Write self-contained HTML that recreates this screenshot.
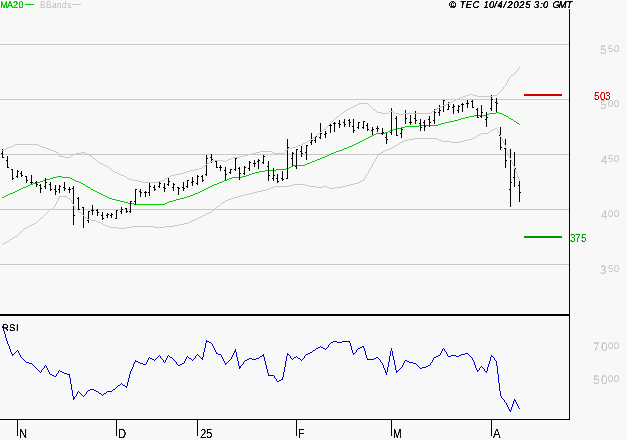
<!DOCTYPE html>
<html lang="en"><head><meta charset="utf-8"><title>TEC chart</title>
<style>
html,body{margin:0;padding:0;background:#f8f8f8;overflow:hidden}
svg{display:block}
text{font-family:"Liberation Sans",sans-serif}
</style></head>
<body>
<svg width="627" height="440" viewBox="0 0 627 440">
<rect width="627" height="440" fill="#f8f8f8"/>
<g shape-rendering="crispEdges">
<rect x="0" y="44" width="569" height="1" fill="#c8c8c8"/>
<rect x="0" y="99" width="569" height="1" fill="#c8c8c8"/>
<rect x="0" y="154" width="569" height="1" fill="#c8c8c8"/>
<rect x="0" y="209" width="569" height="1" fill="#c8c8c8"/>
<rect x="0" y="264" width="569" height="1" fill="#c8c8c8"/>
<path fill="#00cc00" d="M344 148h3v1h-3zM259 171h6v1h-6zM112 199h4v1h-4zM176 199h4v1h-4zM419 125h19v1h-19zM4 196h2v1h-2zM105 196h2v1h-2zM187 196h3v1h-3zM57 176h5v1h-5zM242 176h4v1h-4zM124 202h4v1h-4zM167 202h2v1h-2zM315 160h2v1h-2zM487 114h2v1h-2zM502 114h2v1h-2zM449 121h5v1h-5zM514 121h2v1h-2zM293 165h12v1h-12zM23 187h3v1h-3zM88 187h2v1h-2zM208 187h2v1h-2zM376 133h9v1h-9zM134 204h31v1h-31zM352 145h2v1h-2zM329 154h2v1h-2zM474 115h13v1h-13zM504 115h2v1h-2zM360 141h2v1h-2zM405 126h14v1h-14zM249 174h3v1h-3zM325 156h2v1h-2zM370 136h2v1h-2zM10 193h3v1h-3zM99 193h2v1h-2zM195 193h3v1h-3zM305 164h2v1h-2zM276 169h10v1h-10zM15 191h2v1h-2zM95 191h2v1h-2zM200 191h2v1h-2zM393 129h4v1h-4zM53 177h4v1h-4zM62 177h8v1h-8zM232 177h10v1h-10zM445 122h4v1h-4zM516 122h1v1h-1zM291 166h2v1h-2zM46 179h4v1h-4zM72 179h2v1h-2zM227 179h2v1h-2zM26 186h2v1h-2zM86 186h2v1h-2zM210 186h2v1h-2zM347 147h2v1h-2zM401 127h4v1h-4zM36 182h4v1h-4zM79 182h2v1h-2zM219 182h3v1h-3zM441 123h4v1h-4zM517 123h2v1h-2zM2 197h2v1h-2zM107 197h2v1h-2zM184 197h3v1h-3zM458 119h3v1h-3zM511 119h2v1h-2zM366 138h2v1h-2zM50 178h3v1h-3zM70 178h2v1h-2zM229 178h3v1h-3zM390 130h3v1h-3zM17 190h2v1h-2zM93 190h2v1h-2zM202 190h2v1h-2zM6 195h2v1h-2zM103 195h2v1h-2zM190 195h3v1h-3zM336 151h3v1h-3zM43 180h3v1h-3zM74 180h2v1h-2zM224 180h3v1h-3zM465 117h4v1h-4zM508 117h1v1h-1zM128 203h6v1h-6zM165 203h2v1h-2zM286 168h3v1h-3zM331 153h3v1h-3zM109 198h3v1h-3zM180 198h4v1h-4zM21 188h2v1h-2zM90 188h1v1h-1zM206 188h2v1h-2zM255 172h4v1h-4zM317 159h3v1h-3zM454 120h4v1h-4zM513 120h1v1h-1zM30 184h3v1h-3zM83 184h2v1h-2zM214 184h3v1h-3zM362 140h2v1h-2zM19 189h2v1h-2zM91 189h2v1h-2zM204 189h2v1h-2zM385 132h3v1h-3zM322 157h3v1h-3zM461 118h4v1h-4zM509 118h2v1h-2zM358 142h2v1h-2zM496 112h3v1h-3zM252 173h3v1h-3zM116 200h4v1h-4zM173 200h3v1h-3zM397 128h4v1h-4zM489 113h7v1h-7zM499 113h3v1h-3zM246 175h3v1h-3zM312 161h3v1h-3zM13 192h2v1h-2zM97 192h2v1h-2zM198 192h2v1h-2zM33 183h3v1h-3zM81 183h2v1h-2zM217 183h2v1h-2zM265 170h11v1h-11zM40 181h3v1h-3zM76 181h3v1h-3zM222 181h2v1h-2zM354 144h2v1h-2zM8 194h2v1h-2zM101 194h2v1h-2zM193 194h2v1h-2zM334 152h2v1h-2zM120 201h4v1h-4zM169 201h4v1h-4zM374 134h2v1h-2zM307 163h3v1h-3zM469 116h5v1h-5zM506 116h2v1h-2zM289 167h2v1h-2zM28 185h2v1h-2zM85 185h1v1h-1zM212 185h2v1h-2zM349 146h3v1h-3zM320 158h2v1h-2zM388 131h2v1h-2zM438 124h3v1h-3zM519 124h1v1h-1zM356 143h2v1h-2zM310 162h2v1h-2zM327 155h2v1h-2zM342 149h2v1h-2zM372 135h2v1h-2zM364 139h2v1h-2zM339 150h3v1h-3zM368 137h2v1h-2z"/>
<path fill="#000" d="M2 149v9h1v-9zM1 153h1v1h-1zM3 157h1v1h-1zM7 156v12h1v-12zM6 160h1v1h-1zM8 167h1v1h-1zM12 169v11h1v-11zM11 169h1v1h-1zM13 178h1v1h-1zM17 170v8h1v-8zM16 176h1v1h-1zM18 171h1v1h-1zM21 171v6h1v-6zM20 173h1v1h-1zM22 175h1v1h-1zM26 176v7h1v-7zM25 176h1v1h-1zM27 180h1v1h-1zM31 175v9h1v-9zM30 182h1v1h-1zM32 182h1v1h-1zM36 181v6h1v-6zM35 182h1v1h-1zM37 184h1v1h-1zM40 184v9h1v-9zM39 185h1v1h-1zM41 188h1v1h-1zM45 178v11h1v-11zM44 186h1v1h-1zM46 182h1v1h-1zM50 182v9h1v-9zM49 184h1v1h-1zM51 189h1v1h-1zM55 185v10h1v-10zM54 189h1v1h-1zM56 191h1v1h-1zM59 185v8h1v-8zM58 189h1v1h-1zM60 186h1v1h-1zM64 182v9h1v-9zM63 187h1v1h-1zM65 188h1v1h-1zM69 187v6h1v-6zM68 189h1v1h-1zM70 189h1v1h-1zM73 186v39h1v-39zM72 188h1v1h-1zM74 215h1v1h-1zM78 197v13h1v-13zM77 198h1v1h-1zM79 209h1v1h-1zM83 207v21h1v-21zM82 207h1v1h-1zM84 216h1v1h-1zM88 211v12h1v-12zM87 220h1v1h-1zM89 211h1v1h-1zM92 205v10h1v-10zM91 210h1v1h-1zM93 210h1v1h-1zM97 209v7h1v-7zM96 210h1v1h-1zM98 212h1v1h-1zM102 212v8h1v-8zM101 215h1v1h-1zM103 218h1v1h-1zM107 213v5h1v-5zM106 215h1v1h-1zM108 214h1v1h-1zM111 213v5h1v-5zM110 215h1v1h-1zM112 214h1v1h-1zM116 210v9h1v-9zM115 218h1v1h-1zM117 210h1v1h-1zM121 207v7h1v-7zM120 211h1v1h-1zM122 209h1v1h-1zM126 208v5h1v-5zM125 208h1v1h-1zM127 211h1v1h-1zM130 201v12h1v-12zM129 211h1v1h-1zM131 201h1v1h-1zM135 189v16h1v-16zM134 201h1v1h-1zM136 189h1v1h-1zM140 189v8h1v-8zM139 191h1v1h-1zM141 192h1v1h-1zM145 191v6h1v-6zM144 192h1v1h-1zM146 192h1v1h-1zM149 182v14h1v-14zM148 192h1v1h-1zM150 186h1v1h-1zM154 185v6h1v-6zM153 187h1v1h-1zM155 189h1v1h-1zM159 182v6h1v-6zM158 186h1v1h-1zM160 183h1v1h-1zM164 183v9h1v-9zM163 187h1v1h-1zM165 188h1v1h-1zM168 178v8h1v-8zM167 184h1v1h-1zM169 181h1v1h-1zM173 183v8h1v-8zM172 187h1v1h-1zM174 184h1v1h-1zM178 187v8h1v-8zM177 187h1v1h-1zM179 188h1v1h-1zM183 182v9h1v-9zM182 187h1v1h-1zM184 188h1v1h-1zM187 180v8h1v-8zM186 186h1v1h-1zM188 180h1v1h-1zM192 177v9h1v-9zM191 182h1v1h-1zM193 181h1v1h-1zM197 175v10h1v-10zM196 183h1v1h-1zM198 176h1v1h-1zM202 175v7h1v-7zM201 176h1v1h-1zM203 180h1v1h-1zM206 155v21h1v-21zM205 174h1v1h-1zM207 158h1v1h-1zM211 154v9h1v-9zM210 157h1v1h-1zM212 159h1v1h-1zM216 161v7h1v-7zM215 161h1v1h-1zM217 167h1v1h-1zM220 165v6h1v-6zM219 167h1v1h-1zM221 167h1v1h-1zM225 167v13h1v-13zM224 170h1v1h-1zM226 174h1v1h-1zM230 169v5h1v-5zM229 172h1v1h-1zM231 169h1v1h-1zM235 158v13h1v-13zM234 169h1v1h-1zM236 158h1v1h-1zM239 167v13h1v-13zM238 168h1v1h-1zM240 173h1v1h-1zM244 166v9h1v-9zM243 173h1v1h-1zM245 167h1v1h-1zM249 161v10h1v-10zM248 168h1v1h-1zM250 162h1v1h-1zM254 160v7h1v-7zM253 163h1v1h-1zM255 163h1v1h-1zM258 159v10h1v-10zM257 161h1v1h-1zM259 160h1v1h-1zM263 155v9h1v-9zM262 162h1v1h-1zM264 156h1v1h-1zM268 161v20h1v-20zM267 166h1v1h-1zM269 175h1v1h-1zM273 168v13h1v-13zM272 178h1v1h-1zM274 175h1v1h-1zM277 174v9h1v-9zM276 178h1v1h-1zM278 181h1v1h-1zM282 171v10h1v-10zM281 178h1v1h-1zM283 179h1v1h-1zM287 139v40h1v-40zM286 178h1v1h-1zM288 147h1v1h-1zM292 152v14h1v-14zM291 158h1v1h-1zM293 153h1v1h-1zM296 149v20h1v-20zM295 166h1v1h-1zM297 149h1v1h-1zM301 146v11h1v-11zM300 151h1v1h-1zM302 153h1v1h-1zM306 145v15h1v-15zM305 152h1v1h-1zM307 145h1v1h-1zM311 133v12h1v-12zM310 142h1v1h-1zM312 140h1v1h-1zM315 136v7h1v-7zM314 140h1v1h-1zM316 136h1v1h-1zM320 123v16h1v-16zM319 137h1v1h-1zM321 133h1v1h-1zM325 131v7h1v-7zM324 134h1v1h-1zM326 133h1v1h-1zM330 124v9h1v-9zM329 125h1v1h-1zM331 125h1v1h-1zM334 122v10h1v-10zM333 123h1v1h-1zM335 123h1v1h-1zM339 120v8h1v-8zM338 123h1v1h-1zM340 124h1v1h-1zM344 119v8h1v-8zM343 122h1v1h-1zM345 124h1v1h-1zM349 119v8h1v-8zM348 120h1v1h-1zM350 122h1v1h-1zM353 119v14h1v-14zM352 126h1v1h-1zM354 130h1v1h-1zM358 122v7h1v-7zM357 127h1v1h-1zM359 122h1v1h-1zM363 121v8h1v-8zM362 127h1v1h-1zM364 121h1v1h-1zM367 123v8h1v-8zM366 125h1v1h-1zM368 129h1v1h-1zM372 127v8h1v-8zM371 130h1v1h-1zM373 129h1v1h-1zM377 126v6h1v-6zM376 128h1v1h-1zM378 128h1v1h-1zM382 128v7h1v-7zM381 133h1v1h-1zM383 132h1v1h-1zM386 133v11h1v-11zM385 137h1v1h-1zM387 139h1v1h-1zM391 108v27h1v-27zM390 132h1v1h-1zM392 111h1v1h-1zM396 116v20h1v-20zM395 118h1v1h-1zM397 135h1v1h-1zM401 128v10h1v-10zM400 133h1v1h-1zM402 129h1v1h-1zM405 110v14h1v-14zM404 113h1v1h-1zM406 118h1v1h-1zM410 115v10h1v-10zM409 122h1v1h-1zM411 122h1v1h-1zM415 111v13h1v-13zM414 118h1v1h-1zM416 120h1v1h-1zM420 119v12h1v-12zM419 123h1v1h-1zM421 127h1v1h-1zM424 120v11h1v-11zM423 122h1v1h-1zM425 126h1v1h-1zM429 116v11h1v-11zM428 119h1v1h-1zM430 122h1v1h-1zM434 109v15h1v-15zM433 120h1v1h-1zM435 112h1v1h-1zM439 105v11h1v-11zM438 112h1v1h-1zM440 110h1v1h-1zM443 100v12h1v-12zM442 106h1v1h-1zM444 100h1v1h-1zM448 102v8h1v-8zM447 109h1v1h-1zM449 106h1v1h-1zM453 104v10h1v-10zM452 107h1v1h-1zM454 106h1v1h-1zM458 105v8h1v-8zM457 110h1v1h-1zM459 106h1v1h-1zM462 103v9h1v-9zM461 104h1v1h-1zM463 104h1v1h-1zM467 100v8h1v-8zM466 103h1v1h-1zM468 103h1v1h-1zM472 100v8h1v-8zM471 101h1v1h-1zM473 107h1v1h-1zM477 108v10h1v-10zM476 109h1v1h-1zM478 117h1v1h-1zM481 105v13h1v-13zM480 116h1v1h-1zM482 112h1v1h-1zM486 112v15h1v-15zM485 119h1v1h-1zM487 117h1v1h-1zM491 95v16h1v-16zM490 108h1v1h-1zM492 99h1v1h-1zM496 98v14h1v-14zM495 102h1v1h-1zM497 103h1v1h-1zM500 127v23h1v-23zM499 135h1v1h-1zM501 147h1v1h-1zM505 139v29h1v-29zM504 148h1v1h-1zM506 160h1v1h-1zM510 149v58h1v-58zM509 189h1v1h-1zM511 182h1v1h-1zM514 152v35h1v-35zM513 177h1v1h-1zM515 168h1v1h-1zM519 181v21h1v-21zM518 185h1v1h-1zM520 192h1v1h-1z"/>
<path fill="#c8c8c8" d="M357 104h2v1h-2zM368 104h1v1h-1zM446 104h2v1h-2zM463 96h3v1h-3zM477 96h16v1h-16zM59 155h1v1h-1zM71 155h2v1h-2zM89 155h2v1h-2zM244 155h4v1h-4zM8 147h3v1h-3zM43 147h3v1h-3zM292 147h4v1h-4zM2 150h2v1h-2zM51 150h3v1h-3zM285 150h1v1h-1zM109 168h1v1h-1zM199 168h3v1h-3zM138 181h4v1h-4zM158 181h4v1h-4zM344 111h1v1h-1zM376 111h1v1h-1zM389 111h4v1h-4zM432 111h2v1h-2zM341 113h2v1h-2zM382 113h6v1h-6zM394 113h5v1h-5zM403 113h28v1h-28zM6 148h2v1h-2zM46 148h2v1h-2zM288 148h4v1h-4zM331 122h1v1h-1zM54 151h2v1h-2zM260 151h12v1h-12zM285 151h1v1h-1zM100 163h2v1h-2zM207 163h2v1h-2zM58 153h1v1h-1zM76 153h5v1h-5zM85 153h2v1h-2zM252 153h4v1h-4zM274 153h10v1h-10zM502 89h1v1h-1zM469 94h4v1h-4zM497 94h1v1h-1zM102 164h2v1h-2zM206 164h1v1h-1zM359 103h9v1h-9zM448 103h2v1h-2zM353 106h2v1h-2zM370 106h1v1h-1zM441 106h2v1h-2zM343 112h1v1h-1zM377 112h5v1h-5zM388 112h1v1h-1zM393 112h1v1h-1zM431 112h1v1h-1zM466 95h3v1h-3zM473 95h4v1h-4zM493 95h4v1h-4zM515 73h1v1h-1zM96 160h1v1h-1zM213 160h10v1h-10zM226 160h2v1h-2zM340 114h1v1h-1zM399 114h4v1h-4zM13 145h2v1h-2zM38 145h2v1h-2zM298 145h3v1h-3zM112 170h1v1h-1zM190 170h4v1h-4zM97 161h1v1h-1zM210 161h3v1h-3zM223 161h3v1h-3zM64 157h6v1h-6zM92 157h1v1h-1zM233 157h7v1h-7zM142 182h16v1h-16zM345 110h2v1h-2zM375 110h1v1h-1zM434 110h1v1h-1zM460 97h3v1h-3zM98 162h2v1h-2zM209 162h1v1h-1zM334 119h1v1h-1zM337 116h2v1h-2zM452 101h2v1h-2zM117 173h2v1h-2zM180 173h4v1h-4zM349 108h2v1h-2zM372 108h1v1h-1zM437 108h2v1h-2zM11 146h2v1h-2zM40 146h3v1h-3zM296 146h2v1h-2zM15 144h23v1h-23zM301 144h2v1h-2zM106 166h2v1h-2zM203 166h2v1h-2zM311 139h1v1h-1zM518 69h1v1h-1zM104 165h2v1h-2zM205 165h1v1h-1zM124 176h2v1h-2zM169 176h2v1h-2zM56 152h2v1h-2zM81 152h4v1h-4zM256 152h4v1h-4zM272 152h2v1h-2zM284 152h1v1h-1zM127 178h2v1h-2zM165 178h2v1h-2zM93 158h2v1h-2zM231 158h2v1h-2zM58 154h1v1h-1zM73 154h3v1h-3zM87 154h2v1h-2zM248 154h4v1h-4zM59 156h5v1h-5zM70 156h1v1h-1zM91 156h1v1h-1zM240 156h4v1h-4zM329 124h1v1h-1zM318 133h2v1h-2zM351 107h2v1h-2zM371 107h1v1h-1zM439 107h2v1h-2zM322 130h1v1h-1zM115 172h2v1h-2zM184 172h3v1h-3zM95 159h1v1h-1zM228 159h3v1h-3zM113 171h2v1h-2zM187 171h3v1h-3zM509 77h1v1h-1zM347 109h2v1h-2zM373 109h2v1h-2zM435 109h2v1h-2zM126 177h1v1h-1zM167 177h2v1h-2zM355 105h2v1h-2zM369 105h1v1h-1zM443 105h3v1h-3zM4 149h2v1h-2zM48 149h3v1h-3zM286 149h2v1h-2zM513 74h2v1h-2zM119 174h2v1h-2zM175 174h5v1h-5zM110 169h2v1h-2zM194 169h5v1h-5zM336 117h1v1h-1zM121 175h3v1h-3zM171 175h4v1h-4zM129 179h4v1h-4zM164 179h1v1h-1zM458 98h2v1h-2zM108 167h1v1h-1zM202 167h1v1h-1zM333 120h1v1h-1zM323 129h2v1h-2zM133 180h5v1h-5zM162 180h2v1h-2zM454 100h2v1h-2zM309 140h2v1h-2zM501 90h1v1h-1zM504 86h1v1h-1zM313 137h2v1h-2zM305 142h2v1h-2zM499 92h1v1h-1zM508 79h1v1h-1zM511 75h2v1h-2zM450 102h2v1h-2zM507 82h1v1h-1zM456 99h2v1h-2zM328 125h1v1h-1zM315 136h1v1h-1zM515 72h1v1h-1zM307 141h2v1h-2zM335 118h1v1h-1zM507 81h1v1h-1zM339 115h1v1h-1zM326 127h1v1h-1zM303 143h2v1h-2zM518 68h1v1h-1zM503 88h1v1h-1zM506 84h1v1h-1zM503 87h1v1h-1zM506 83h1v1h-1zM498 93h1v1h-1zM330 123h1v1h-1zM317 134h1v1h-1zM517 70h1v1h-1zM510 76h1v1h-1zM321 131h1v1h-1zM325 128h1v1h-1zM509 78h1v1h-1zM332 121h1v1h-1zM505 85h1v1h-1zM500 91h1v1h-1zM312 138h1v1h-1zM516 71h1v1h-1zM327 126h1v1h-1zM316 135h1v1h-1zM519 67h1v1h-1zM320 132h1v1h-1zM508 80h1v1h-1z"/>
<path fill="#c8c8c8" d="M505 145v3h1v-3zM508 153v3h1v-3zM507 150v3h1v-3zM517 174v3h1v-3zM514 166v3h1v-3zM516 171v3h1v-3zM59 196h8v1h-8zM238 196h3v1h-3zM373 162h1v1h-1zM512 162h1v1h-1zM387 149h3v1h-3zM506 149h1v1h-1zM46 213h1v1h-1zM81 213h1v1h-1zM207 213h2v1h-2zM274 186h15v1h-15zM309 186h7v1h-7zM323 186h4v1h-4zM342 186h4v1h-4zM24 228h2v1h-2zM118 228h8v1h-8zM32 224h2v1h-2zM103 224h2v1h-2zM179 224h5v1h-5zM368 172h1v1h-1zM28 226h2v1h-2zM107 226h3v1h-3zM132 226h22v1h-22zM165 226h9v1h-9zM383 151h2v1h-2zM26 227h2v1h-2zM110 227h8v1h-8zM126 227h6v1h-6zM154 227h11v1h-11zM262 190h4v1h-4zM55 205h1v1h-1zM73 205h1v1h-1zM219 205h1v1h-1zM38 220h1v1h-1zM91 220h5v1h-5zM192 220h3v1h-3zM57 200h1v1h-1zM71 200h1v1h-1zM226 200h2v1h-2zM293 184h12v1h-12zM350 184h4v1h-4zM36 222h1v1h-1zM98 222h3v1h-3zM188 222h2v1h-2zM30 225h2v1h-2zM105 225h2v1h-2zM174 225h5v1h-5zM354 183h4v1h-4zM397 144h2v1h-2zM504 144h1v1h-1zM42 217h1v1h-1zM85 217h2v1h-2zM199 217h2v1h-2zM55 204h1v1h-1zM73 204h1v1h-1zM220 204h1v1h-1zM19 233h1v1h-1zM395 145h2v1h-2zM271 187h3v1h-3zM316 187h7v1h-7zM327 187h2v1h-2zM335 187h7v1h-7zM414 138h23v1h-23zM472 138h2v1h-2zM501 138h1v1h-1zM402 141h2v1h-2zM442 141h9v1h-9zM460 141h4v1h-4zM503 141h1v1h-1zM249 193h4v1h-4zM58 198h1v1h-1zM68 198h2v1h-2zM231 198h3v1h-3zM377 155h1v1h-1zM488 132h2v1h-2zM498 132h1v1h-1zM375 160h1v1h-1zM511 160h1v1h-1zM257 191h5v1h-5zM400 142h2v1h-2zM451 142h9v1h-9zM503 142h1v1h-1zM379 153h2v1h-2zM365 177h1v1h-1zM518 177h1v1h-1zM371 167h1v1h-1zM404 140h4v1h-4zM439 140h3v1h-3zM464 140h4v1h-4zM502 140h1v1h-1zM269 188h2v1h-2zM329 188h6v1h-6zM245 194h4v1h-4zM394 146h1v1h-1zM49 210h1v1h-1zM77 210h1v1h-1zM213 210h1v1h-1zM399 143h1v1h-1zM504 143h1v1h-1zM390 148h2v1h-2zM506 148h1v1h-1zM481 133h7v1h-7zM499 133h1v1h-1zM7 241h2v1h-2zM39 219h1v1h-1zM88 219h3v1h-3zM195 219h2v1h-2zM57 201h1v1h-1zM71 201h1v1h-1zM224 201h2v1h-2zM23 229h1v1h-1zM477 135h2v1h-2zM500 135h1v1h-1zM362 180h2v1h-2zM519 180h1v1h-1zM378 154h1v1h-1zM408 139h6v1h-6zM437 139h2v1h-2zM468 139h4v1h-4zM502 139h1v1h-1zM493 129h2v1h-2zM497 129h1v1h-1zM58 199h1v1h-1zM70 199h1v1h-1zM228 199h3v1h-3zM289 185h4v1h-4zM305 185h4v1h-4zM346 185h4v1h-4zM381 152h2v1h-2zM40 218h2v1h-2zM87 218h1v1h-1zM197 218h2v1h-2zM369 170h1v1h-1zM515 170h1v1h-1zM37 221h1v1h-1zM96 221h2v1h-2zM190 221h2v1h-2zM59 197h1v1h-1zM67 197h1v1h-1zM234 197h4v1h-4zM476 136h1v1h-1zM500 136h1v1h-1zM385 150h2v1h-2zM474 137h2v1h-2zM501 137h1v1h-1zM47 212h1v1h-1zM79 212h2v1h-2zM209 212h2v1h-2zM241 195h4v1h-4zM358 182h2v1h-2zM45 214h1v1h-1zM82 214h1v1h-1zM205 214h2v1h-2zM13 237h2v1h-2zM34 223h2v1h-2zM101 223h2v1h-2zM184 223h4v1h-4zM18 234h1v1h-1zM53 207h1v1h-1zM75 207h1v1h-1zM216 207h1v1h-1zM253 192h4v1h-4zM56 202h1v1h-1zM72 202h1v1h-1zM222 202h2v1h-2zM479 134h2v1h-2zM499 134h1v1h-1zM376 158h1v1h-1zM510 158h1v1h-1zM21 231h1v1h-1zM44 215h1v1h-1zM83 215h1v1h-1zM203 215h2v1h-2zM5 242h2v1h-2zM43 216h1v1h-1zM84 216h1v1h-1zM201 216h2v1h-2zM10 239h2v1h-2zM366 174h1v1h-1zM2 244h1v1h-1zM52 208h1v1h-1zM75 208h1v1h-1zM215 208h1v1h-1zM364 178h1v1h-1zM518 178h1v1h-1zM370 168h1v1h-1zM495 128h2v1h-2zM377 156h1v1h-1zM509 156h1v1h-1zM392 147h2v1h-2zM376 157h1v1h-1zM509 157h1v1h-1zM48 211h1v1h-1zM78 211h1v1h-1zM211 211h2v1h-2zM372 164h1v1h-1zM513 164h1v1h-1zM15 236h2v1h-2zM360 181h2v1h-2zM368 171h1v1h-1zM12 238h1v1h-1zM3 243h2v1h-2zM490 131h1v1h-1zM498 131h1v1h-1zM371 166h1v1h-1zM375 159h1v1h-1zM510 159h1v1h-1zM367 173h1v1h-1zM491 130h2v1h-2zM497 130h1v1h-1zM20 232h1v1h-1zM266 189h3v1h-3zM54 206h1v1h-1zM74 206h1v1h-1zM217 206h2v1h-2zM50 209h2v1h-2zM76 209h1v1h-1zM214 209h1v1h-1zM369 169h1v1h-1zM515 169h1v1h-1zM373 163h1v1h-1zM512 163h1v1h-1zM56 203h1v1h-1zM72 203h1v1h-1zM221 203h1v1h-1zM374 161h1v1h-1zM511 161h1v1h-1zM366 175h1v1h-1zM22 230h1v1h-1zM372 165h1v1h-1zM513 165h1v1h-1zM365 176h1v1h-1zM17 235h1v1h-1zM9 240h1v1h-1zM364 179h1v1h-1zM519 179h1v1h-1z"/>
<path fill="#0000cc" d="M366 355v3h1v-3zM389 356v6h1v-6zM72 390v6h1v-6zM130 371v3h1v-3zM236 352v5h1v-5zM202 357v3h1v-3zM351 346v4h1v-4zM487 367v4h1v-4zM9 346v3h1v-3zM6 338v3h1v-3zM498 374v9h1v-9zM263 354v3h1v-3zM282 377v3h1v-3zM512 404v3h1v-3zM286 356v5h1v-5zM285 361v6h1v-6zM266 365v4h1v-4zM5 334v4h1v-4zM392 351v5h1v-5zM206 340v3h1v-3zM395 365v5h1v-5zM490 357v4h1v-4zM239 366v3h1v-3zM365 351v4h1v-4zM388 362v5h1v-5zM205 343v5h1v-5zM129 374v4h1v-4zM71 384v6h1v-6zM4 331v3h1v-3zM497 366v8h1v-8zM383 365v3h1v-3zM133 364v3h1v-3zM387 367v5h1v-5zM350 343v3h1v-3zM128 378v4h1v-4zM474 362v3h1v-3zM500 391v5h1v-5zM284 367v5h1v-5zM127 382v4h1v-4zM265 361v4h1v-4zM391 348v3h1v-3zM7 341v3h1v-3zM70 378v6h1v-6zM235 349v3h1v-3zM364 348v3h1v-3zM268 373v3h1v-3zM394 360v5h1v-5zM386 372v3h1v-3zM390 351v5h1v-5zM499 383v8h1v-8zM238 361v5h1v-5zM385 370v3h1v-3zM10 349v3h1v-3zM73 396v4h1v-4zM3 328v3h1v-3zM203 352v5h1v-5zM283 372v5h1v-5zM287 353v3h1v-3zM352 350v3h1v-3zM489 361v3h1v-3zM267 369v4h1v-4zM393 356v4h1v-4zM204 348v4h1v-4zM496 361v5h1v-5zM237 357v4h1v-4zM488 364v3h1v-3zM264 357v4h1v-4zM69 374v4h1v-4zM396 370v3h1v-3zM513 401v3h1v-3zM475 365v3h1v-3zM511 407v3h1v-3zM25 361h1v1h-1zM135 361h3v1h-3zM147 361h1v1h-1zM163 361h1v1h-1zM165 361h1v1h-1zM175 361h1v1h-1zM184 361h1v1h-1zM224 361h1v1h-1zM228 361h1v1h-1zM244 361h1v1h-1zM380 361h1v1h-1zM404 361h1v1h-1zM407 361h2v1h-2zM432 361h1v1h-1zM473 361h1v1h-1zM54 376h2v1h-2zM274 376h1v1h-1zM12 355h1v1h-1zM20 355h1v1h-1zM159 355h1v1h-1zM168 355h1v1h-1zM196 355h1v1h-1zM198 355h1v1h-1zM221 355h1v1h-1zM232 355h1v1h-1zM262 355h1v1h-1zM289 355h1v1h-1zM305 355h1v1h-1zM438 355h2v1h-2zM447 355h1v1h-1zM451 355h5v1h-5zM459 355h2v1h-2zM469 355h1v1h-1zM491 355h1v1h-1zM21 357h1v1h-1zM149 357h1v1h-1zM157 357h1v1h-1zM160 357h1v1h-1zM167 357h1v1h-1zM170 357h2v1h-2zM186 357h1v1h-1zM188 357h1v1h-1zM195 357h1v1h-1zM200 357h1v1h-1zM222 357h1v1h-1zM231 357h1v1h-1zM259 357h1v1h-1zM290 357h1v1h-1zM294 357h2v1h-2zM297 357h1v1h-1zM304 357h1v1h-1zM376 357h2v1h-2zM434 357h2v1h-2zM471 357h1v1h-1zM493 357h1v1h-1zM77 393h1v1h-1zM80 393h1v1h-1zM86 393h1v1h-1zM99 393h2v1h-2zM104 393h2v1h-2zM76 395h1v1h-1zM82 395h1v1h-1zM84 395h1v1h-1zM102 395h1v1h-1zM78 391h1v1h-1zM87 391h1v1h-1zM96 391h2v1h-2zM107 391h5v1h-5zM39 371h1v1h-1zM41 371h1v1h-1zM48 371h1v1h-1zM58 371h1v1h-1zM60 371h2v1h-2zM397 371h1v1h-1zM477 371h1v1h-1zM485 371h2v1h-2zM11 352h1v1h-1zM15 352h1v1h-1zM18 352h1v1h-1zM216 352h1v1h-1zM234 352h1v1h-1zM310 352h2v1h-2zM355 352h1v1h-1zM441 352h1v1h-1zM446 352h1v1h-1zM22 358h1v1h-1zM148 358h1v1h-1zM150 358h2v1h-2zM156 358h1v1h-1zM161 358h1v1h-1zM166 358h1v1h-1zM172 358h1v1h-1zM186 358h1v1h-1zM189 358h2v1h-2zM194 358h1v1h-1zM201 358h1v1h-1zM222 358h1v1h-1zM231 358h1v1h-1zM249 358h3v1h-3zM256 358h3v1h-3zM291 358h1v1h-1zM293 358h1v1h-1zM298 358h2v1h-2zM303 358h1v1h-1zM367 358h1v1h-1zM374 358h2v1h-2zM378 358h1v1h-1zM433 358h1v1h-1zM472 358h1v1h-1zM494 358h1v1h-1zM23 359h1v1h-1zM148 359h1v1h-1zM152 359h2v1h-2zM155 359h1v1h-1zM162 359h1v1h-1zM166 359h1v1h-1zM173 359h1v1h-1zM185 359h1v1h-1zM191 359h1v1h-1zM193 359h1v1h-1zM223 359h1v1h-1zM230 359h1v1h-1zM247 359h2v1h-2zM252 359h4v1h-4zM292 359h1v1h-1zM300 359h1v1h-1zM302 359h1v1h-1zM367 359h7v1h-7zM379 359h1v1h-1zM433 359h1v1h-1zM472 359h1v1h-1zM494 359h1v1h-1zM213 346h1v1h-1zM320 346h1v1h-1zM328 346h1v1h-1zM362 346h2v1h-2zM209 342h2v1h-2zM331 342h2v1h-2zM337 342h5v1h-5zM349 342h1v1h-1zM214 348h1v1h-1zM316 348h2v1h-2zM323 348h2v1h-2zM326 348h1v1h-1zM358 348h2v1h-2zM443 348h1v1h-1zM26 362h3v1h-3zM134 362h1v1h-1zM138 362h2v1h-2zM146 362h1v1h-1zM164 362h1v1h-1zM176 362h1v1h-1zM184 362h1v1h-1zM224 362h1v1h-1zM227 362h1v1h-1zM243 362h1v1h-1zM381 362h1v1h-1zM404 362h1v1h-1zM409 362h4v1h-4zM431 362h1v1h-1zM29 363h3v1h-3zM134 363h1v1h-1zM140 363h3v1h-3zM146 363h1v1h-1zM176 363h1v1h-1zM182 363h2v1h-2zM225 363h2v1h-2zM243 363h1v1h-1zM382 363h1v1h-1zM403 363h1v1h-1zM413 363h3v1h-3zM430 363h1v1h-1zM38 370h1v1h-1zM41 370h1v1h-1zM48 370h1v1h-1zM59 370h1v1h-1zM131 370h1v1h-1zM398 370h1v1h-1zM477 370h2v1h-2zM484 370h1v1h-1zM49 373h1v1h-1zM57 373h1v1h-1zM64 373h3v1h-3zM17 350h1v1h-1zM215 350h1v1h-1zM313 350h2v1h-2zM356 350h1v1h-1zM442 350h1v1h-1zM444 350h1v1h-1zM20 356h1v1h-1zM158 356h1v1h-1zM160 356h1v1h-1zM167 356h1v1h-1zM169 356h1v1h-1zM187 356h1v1h-1zM195 356h1v1h-1zM199 356h1v1h-1zM221 356h1v1h-1zM232 356h1v1h-1zM260 356h2v1h-2zM290 356h1v1h-1zM296 356h1v1h-1zM304 356h1v1h-1zM436 356h2v1h-2zM448 356h3v1h-3zM456 356h3v1h-3zM470 356h1v1h-1zM491 356h2v1h-2zM50 374h2v1h-2zM56 374h1v1h-1zM67 374h2v1h-2zM277 381h2v1h-2zM52 375h2v1h-2zM56 375h1v1h-1zM269 375h5v1h-5zM117 386h1v1h-1zM125 386h2v1h-2zM32 364h1v1h-1zM143 364h3v1h-3zM177 364h1v1h-1zM180 364h2v1h-2zM225 364h1v1h-1zM242 364h1v1h-1zM382 364h1v1h-1zM403 364h1v1h-1zM416 364h1v1h-1zM430 364h1v1h-1zM214 349h1v1h-1zM315 349h1v1h-1zM325 349h1v1h-1zM357 349h1v1h-1zM442 349h1v1h-1zM444 349h1v1h-1zM275 378h1v1h-1zM36 368h1v1h-1zM43 368h1v1h-1zM47 368h1v1h-1zM132 368h1v1h-1zM384 368h1v1h-1zM400 368h1v1h-1zM420 368h2v1h-2zM476 368h1v1h-1zM479 368h1v1h-1zM483 368h1v1h-1zM506 404h1v1h-1zM517 404h1v1h-1zM504 400h1v1h-1zM514 400h2v1h-2zM76 394h1v1h-1zM81 394h1v1h-1zM85 394h1v1h-1zM101 394h1v1h-1zM103 394h1v1h-1zM88 390h2v1h-2zM94 390h2v1h-2zM112 390h1v1h-1zM35 367h1v1h-1zM44 367h1v1h-1zM46 367h1v1h-1zM132 367h1v1h-1zM240 367h1v1h-1zM401 367h1v1h-1zM419 367h1v1h-1zM422 367h4v1h-4zM480 367h1v1h-1zM482 367h1v1h-1zM24 360h1v1h-1zM135 360h1v1h-1zM147 360h1v1h-1zM154 360h1v1h-1zM163 360h1v1h-1zM165 360h1v1h-1zM174 360h1v1h-1zM185 360h1v1h-1zM192 360h1v1h-1zM223 360h1v1h-1zM229 360h1v1h-1zM245 360h2v1h-2zM301 360h1v1h-1zM380 360h1v1h-1zM405 360h2v1h-2zM432 360h1v1h-1zM473 360h1v1h-1zM495 360h1v1h-1zM34 366h1v1h-1zM44 366h1v1h-1zM46 366h1v1h-1zM240 366h1v1h-1zM402 366h1v1h-1zM418 366h1v1h-1zM426 366h2v1h-2zM481 366h1v1h-1zM11 353h1v1h-1zM14 353h1v1h-1zM19 353h1v1h-1zM216 353h2v1h-2zM233 353h1v1h-1zM308 353h2v1h-2zM353 353h2v1h-2zM440 353h1v1h-1zM446 353h1v1h-1zM465 353h3v1h-3zM16 351h1v1h-1zM18 351h1v1h-1zM215 351h1v1h-1zM234 351h1v1h-1zM312 351h1v1h-1zM356 351h1v1h-1zM441 351h1v1h-1zM445 351h1v1h-1zM90 389h4v1h-4zM113 389h2v1h-2zM12 354h2v1h-2zM19 354h1v1h-1zM197 354h1v1h-1zM218 354h3v1h-3zM233 354h1v1h-1zM288 354h1v1h-1zM306 354h2v1h-2zM353 354h1v1h-1zM440 354h1v1h-1zM447 354h1v1h-1zM461 354h4v1h-4zM468 354h1v1h-1zM213 347h1v1h-1zM318 347h2v1h-2zM321 347h2v1h-2zM327 347h1v1h-1zM360 347h2v1h-2zM363 347h1v1h-1zM276 379h1v1h-1zM281 379h1v1h-1zM120 384h1v1h-1zM122 384h1v1h-1zM207 341h2v1h-2zM333 341h4v1h-4zM342 341h8v1h-8zM77 392h1v1h-1zM79 392h1v1h-1zM86 392h1v1h-1zM98 392h1v1h-1zM106 392h1v1h-1zM37 369h1v1h-1zM42 369h1v1h-1zM47 369h1v1h-1zM131 369h1v1h-1zM384 369h1v1h-1zM399 369h1v1h-1zM476 369h1v1h-1zM479 369h1v1h-1zM484 369h1v1h-1zM33 365h1v1h-1zM45 365h1v1h-1zM178 365h2v1h-2zM241 365h1v1h-1zM402 365h1v1h-1zM417 365h1v1h-1zM428 365h2v1h-2zM8 345h1v1h-1zM212 345h1v1h-1zM328 345h1v1h-1zM40 372h1v1h-1zM49 372h1v1h-1zM58 372h1v1h-1zM62 372h2v1h-2zM486 372h1v1h-1zM116 387h1v1h-1zM126 387h1v1h-1zM121 383h1v1h-1zM8 344h1v1h-1zM212 344h1v1h-1zM329 344h1v1h-1zM276 380h1v1h-1zM279 380h2v1h-2zM274 377h1v1h-1zM118 385h2v1h-2zM123 385h2v1h-2zM74 398h1v1h-1zM502 398h1v1h-1zM211 343h1v1h-1zM330 343h1v1h-1zM74 397h1v1h-1zM501 397h1v1h-1zM506 403h1v1h-1zM516 403h1v1h-1zM2 327h1v1h-1zM507 405h1v1h-1zM517 405h1v1h-1zM509 410h2v1h-2zM75 396h1v1h-1zM83 396h1v1h-1zM501 396h1v1h-1zM2 326h1v1h-1zM507 406h1v1h-1zM518 406h1v1h-1zM509 409h1v1h-1zM508 408h1v1h-1zM519 408h1v1h-1zM504 401h1v1h-1zM515 401h1v1h-1zM508 407h1v1h-1zM518 407h1v1h-1zM115 388h1v1h-1zM503 399h1v1h-1zM514 399h1v1h-1zM510 411h1v1h-1zM505 402h1v1h-1zM516 402h1v1h-1z"/>
<rect x="524" y="94" width="38" height="2" fill="#cc0000"/>
<rect x="524" y="236" width="38" height="2" fill="#009900"/>
<rect x="569" y="9" width="1" height="411" fill="#000"/>
<rect x="0" y="314" width="570" height="2" fill="#000"/>
<rect x="0" y="419" width="570" height="1" fill="#000"/>
<rect x="17" y="419" width="1" height="17" fill="#000"/>
<rect x="116" y="419" width="1" height="17" fill="#000"/>
<rect x="197" y="419" width="1" height="17" fill="#000"/>
<rect x="296" y="419" width="1" height="17" fill="#000"/>
<rect x="391" y="419" width="1" height="17" fill="#000"/>
<rect x="491" y="419" width="1" height="17" fill="#000"/>
<rect x="25" y="4" width="9" height="1" fill="#00cc00"/>
<rect x="72" y="4" width="9" height="1" fill="#c8c8c8"/>
</g>
<defs><filter id="crisp" x="0" y="0" width="627" height="440" filterUnits="userSpaceOnUse" color-interpolation-filters="sRGB"><feComponentTransfer><feFuncA type="table" tableValues="0 0 0.8 1 1"/></feComponentTransfer></filter></defs>
<g filter="url(#crisp)">
<text transform="translate(0,8) scale(0.92,1)" x="0.33 7.61 14.13 20.11" font-size="9.8px" fill="#00cc00" stroke="#00cc00" stroke-width="0.2" text-rendering="geometricPrecision">MA20</text>
<text transform="translate(0,8) scale(0.85,1)" x="47.06 54.12 61.18 67.06 72.94 78.82" font-size="9.8px" fill="#c8c8c8" text-rendering="geometricPrecision">BBands</text>
<text transform="translate(0,8) scale(0.95,1)" x="472.63 478.51 483.89 490.32 497.26 503.14 509.05 514.74 520.32 523.79 530.11 534.11 540.53 546.53 552.95 558.83 562.21 568.74 571.47 577.35 581.58 588.21 596.42" font-size="9.8px" fill="#000" font-style="italic" stroke="#000" stroke-width="0.25" text-rendering="geometricPrecision">© TEC 10/4/2025 3:0 GMT</text>
<text transform="translate(0,331) scale(0.92,1)" x="2.50 10.00 17.39" font-size="9.8px" fill="#000" stroke="#000" stroke-width="0.2" text-rendering="geometricPrecision">RSI</text>
<text transform="translate(0,100) scale(0.95,1)" x="625.26 631.58 636.84" font-size="10.6px" fill="#cc0000">503</text>
<text transform="translate(0,242) scale(0.95,1)" x="600.00 605.26 611.58" font-size="10.6px" fill="#009900">375</text>
<text transform="translate(0,438) scale(0.95,1)" x="20.00" font-size="12px" fill="#000">N</text>
<text transform="translate(0,438) scale(0.95,1)" x="124.21" font-size="12px" fill="#000">D</text>
<text transform="translate(0,438) scale(0.95,1)" x="210.53 216.84" font-size="12px" fill="#000">25</text>
<text transform="translate(0,438) scale(0.85,1)" x="350.59" font-size="12px" fill="#000">F</text>
<text transform="translate(0,438) scale(0.85,1)" x="462.35" font-size="12px" fill="#000">M</text>
<text transform="translate(0,438) scale(0.95,1)" x="518.95" font-size="12px" fill="#000">A</text>
<text transform="translate(0,54) scale(0.95,1)" x="631.58" font-size="12.4px" fill="#c8c8c8" text-rendering="geometricPrecision">5<tspan x="640.00 646.32" y="-2" font-size="9.8px">50</tspan></text>
<text transform="translate(0,109) scale(0.95,1)" x="631.58" font-size="12.4px" fill="#c8c8c8" text-rendering="geometricPrecision">5<tspan x="640.00 646.32" y="-2" font-size="9.8px">00</tspan></text>
<text transform="translate(0,164) scale(0.95,1)" x="632.63" font-size="12.4px" fill="#c8c8c8" text-rendering="geometricPrecision">4<tspan x="640.00 646.32" y="-2" font-size="9.8px">50</tspan></text>
<text transform="translate(0,219) scale(0.95,1)" x="632.63" font-size="12.4px" fill="#c8c8c8" text-rendering="geometricPrecision">4<tspan x="640.00 646.32" y="-2" font-size="9.8px">00</tspan></text>
<text transform="translate(0,274) scale(0.95,1)" x="631.58" font-size="12.4px" fill="#c8c8c8" text-rendering="geometricPrecision">3<tspan x="640.00 646.32" y="-2" font-size="9.8px">50</tspan></text>
<text transform="translate(0,351) scale(0.95,1)" x="624.21 632.63" font-size="12.4px" fill="#c8c8c8" text-rendering="geometricPrecision">70<tspan x="640.00 646.32" y="-2" font-size="9.8px">00</tspan></text>
<text transform="translate(0,384) scale(0.95,1)" x="624.21 632.63" font-size="12.4px" fill="#c8c8c8" text-rendering="geometricPrecision">50<tspan x="640.00 646.32" y="-2" font-size="9.8px">00</tspan></text>
</g>
</svg>
</body></html>
